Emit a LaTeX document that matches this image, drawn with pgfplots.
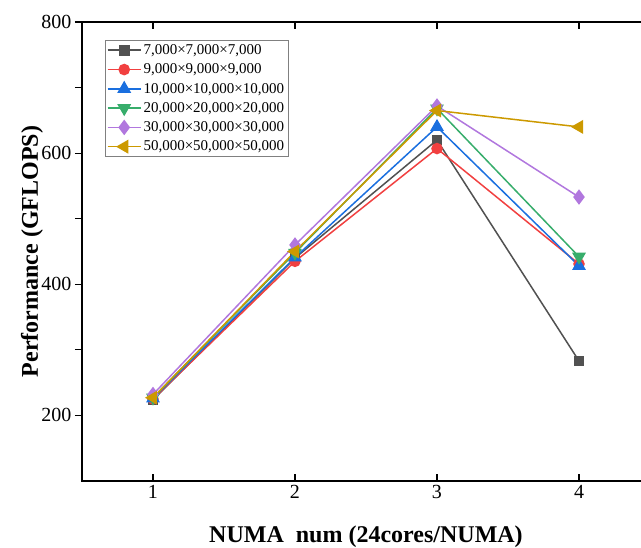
\documentclass[border=0pt]{standalone}
\usepackage{pgfplots}
\pgfplotsset{compat=1.18}
\usepackage{fontspec}
\setmainfont{Liberation Serif}

\definecolor{cgray}{HTML}{515151}
\definecolor{cred}{HTML}{F14040}
\definecolor{cblue}{HTML}{1A6FDF}
\definecolor{cgreen}{HTML}{37AD6B}
\definecolor{cpurple}{HTML}{B177DE}
\definecolor{cgold}{HTML}{CC9900}

\begin{document}
\begin{tikzpicture}
\begin{axis}[
  scale only axis,
  width=568pt, height=459pt,
  xmin=0.5, xmax=4.5,
  ymin=100, ymax=800,
  xtick={1,2,3,4},
  ytick={200,400,600,800},
  minor ytick={300,500,700},
  xtick pos=both, ytick pos=left,
  xtick align=inside, ytick align=outside,
  major tick length=7pt, minor tick length=7pt,
  every tick/.style={black, line width=1.2pt},
  axis line style={line width=1.2pt},
  /pgf/number format/assume math mode=true,
  /pgf/number format/1000 sep={},
  xticklabel style={font=\fontsize{20}{24}\selectfont, yshift=-1pt},
  yticklabel style={font=\fontsize{20}{24}\selectfont},
  xlabel={NUMA\ \ num (24cores/NUMA)},
  ylabel={Performance (GFLOPS)},
  every axis x label/.style={at={(axis description cs:0.5,-0.122)}, anchor=center,
    font=\fontsize{24}{28}\selectfont\bfseries},
  every axis y label/.style={at={(axis description cs:-0.088,0.5)}, rotate=90, anchor=center,
    font=\fontsize{24}{28}\selectfont\bfseries},
  legend style={at={(0.04,0.96)}, anchor=north west, draw=gray,
    font=\fontsize{15}{17}\selectfont, inner xsep=2pt, inner ysep=2pt, row sep=3.8pt,
    cells={anchor=west}},
  legend image code/.code={%
    \draw[line width=1.6pt, mark repeat=2, mark phase=2]
      plot coordinates {(0cm,0cm) (0.58cm,0cm) (1.16cm,0cm)};},
  every axis plot/.append style={line width=1.5pt},
]
\addplot[cgray, mark=square*, mark size=4.5pt, mark options={solid}]
  coordinates {(1,224) (2,440) (3,620) (4,283)};
\addlegendentry{7,000×7,000×7,000}
\addplot[cred, mark=*, mark size=5pt]
  coordinates {(1,225) (2,435) (3,607) (4,431)};
\addlegendentry{9,000×9,000×9,000}
\addplot[cblue, mark=triangle*, mark size=6.5pt]
  coordinates {(1,226) (2,441) (3,640) (4,428)};
\addlegendentry{10,000×10,000×10,000}
\addplot[cgreen, mark=triangle*, mark size=6.5pt, mark options={rotate=180}]
  coordinates {(1,227) (2,448) (3,668) (4,442)};
\addlegendentry{20,000×20,000×20,000}
\addplot[cpurple, mark=diamond*, mark size=6.5pt]
  coordinates {(1,232) (2,460) (3,672) (4,533)};
\addlegendentry{30,000×30,000×30,000}
\addplot[cgold, mark=triangle*, mark size=6.5pt, mark options={rotate=90}]
  coordinates {(1,227) (2,450) (3,665) (4,640)};
\addlegendentry{50,000×50,000×50,000}
\end{axis}
\pgfresetboundingbox
\path ([xshift=-82pt,yshift=-67pt]current axis.south west)
  rectangle ([xshift=559pt,yshift=481pt]current axis.south west);
\end{tikzpicture}
\end{document}
